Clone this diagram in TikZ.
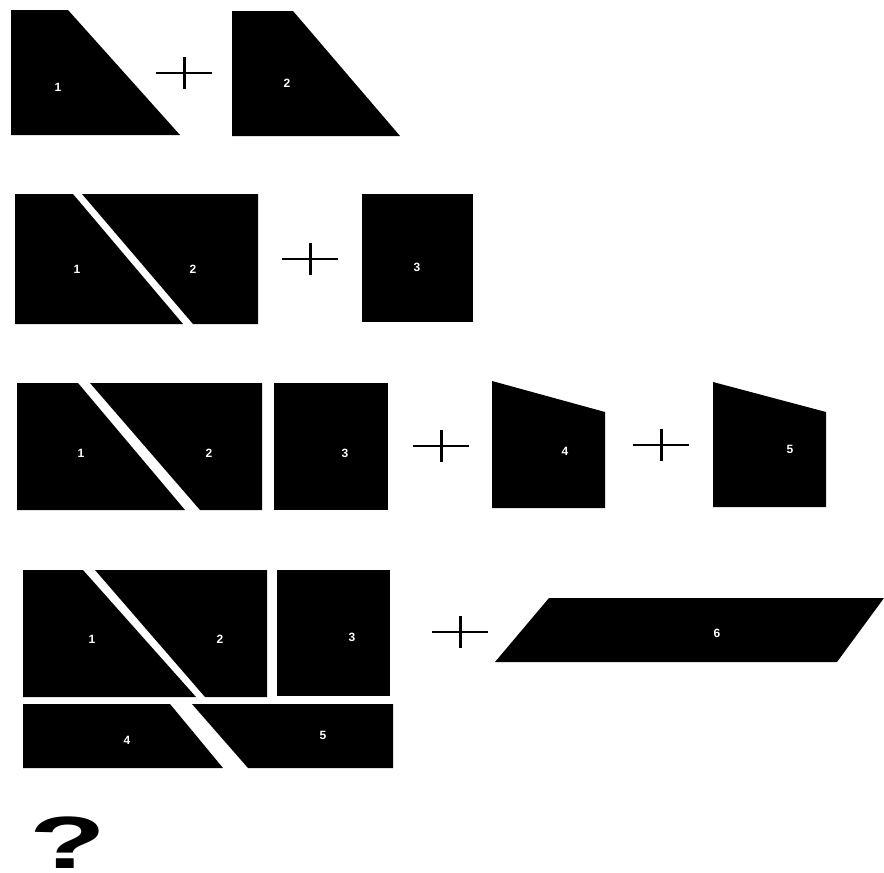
\documentclass[tikz,border=0pt]{standalone}
\usepackage{fontspec}
\setmainfont{Liberation Sans}
\usetikzlibrary{positioning}
\tikzset{
  piece/.style={fill=black},
  num/.style={text=white, font=\bfseries\fontsize{12}{13}\selectfont, inner sep=0pt},
  hbar/.style={draw=black, line width=2.2pt},
  vbar/.style={draw=black, line width=3pt},
}
% cross between two groups of pieces
\newcommand{\plussign}[3]{%
  \coordinate (#1) at (#2,#3);
  \draw[hbar] ([xshift=-28pt]#1) -- ([xshift=28pt]#1);
  \draw[vbar] ([yshift=16pt]#1) -- ([yshift=-16pt]#1);
}

\begin{document}
\begin{tikzpicture}[x=1pt, y=-1pt]
  \useasboundingbox (0,0) rectangle (884,873);

  % row 1
  \fill[piece] (11,10) -- (68,10) -- (180,135) -- (11,135) -- cycle;
  \node[num] (a1) at (58,87) {1};
  \plussign{p1}{184}{73}
  \fill[piece] (232,11) -- (293,11) -- (400,136) -- (232,136) -- cycle;
  \node[num] (a2) at (287,83) {2};

  % row 2
  \fill[piece] (15,194) -- (73,194) -- (183,324) -- (15,324) -- cycle;
  \fill[piece] (82,194) -- (258,194) -- (258,324) -- (193,324) -- cycle;
  \node[num] (b1) at (77,269) {1};
  \node[num] (b2) at (193,269) {2};
  \plussign{p2}{310}{259}
  \fill[piece] (362,194) rectangle (473,322);
  \node[num] (b3) at (417,267) {3};

  % row 3
  \fill[piece] (17,383) -- (78,383) -- (185,510) -- (17,510) -- cycle;
  \fill[piece] (90,383) -- (262,383) -- (262,510) -- (200,510) -- cycle;
  \fill[piece] (274,383) rectangle (388,510);
  \node[num] (c1) at (81,453) {1};
  \node[num] (c2) at (209,453) {2};
  \node[num] (c3) at (345,453) {3};
  \plussign{p3}{441}{446}
  \fill[piece] (492,381) -- (605,412) -- (605,508) -- (492,508) -- cycle;
  \node[num] (c4) at (565,451) {4};
  \plussign{p4}{661}{445}
  \fill[piece] (713,382) -- (826,412) -- (826,507) -- (713,507) -- cycle;
  \node[num] (c5) at (790,449) {5};

  % row 4
  \fill[piece] (23,570) -- (83,570) -- (196,697) -- (23,697) -- cycle;
  \fill[piece] (95,570) -- (267,570) -- (267,697) -- (205,697) -- cycle;
  \fill[piece] (277,570) rectangle (390,696);
  \fill[piece] (23,704) -- (170,704) -- (223,768) -- (23,768) -- cycle;
  \fill[piece] (192,704) -- (393,704) -- (393,768) -- (248,768) -- cycle;
  \node[num] (d1) at (92,639) {1};
  \node[num] (d2) at (220,639) {2};
  \node[num] (d3) at (352,637) {3};
  \node[num] (d4) at (127,740) {4};
  \node[num] (d5) at (323,735) {5};
  \plussign{p5}{460}{632}
  \fill[piece] (549,598) -- (884,598) -- (837,662) -- (495,662) -- cycle;
  \node[num] (d6) at (717,633) {6};

  % question
  \node[anchor=base west, inner sep=0pt, xscale=1.7,
        font=\bfseries\fontsize{74}{74}\selectfont] (q) at (29,868) {?};
\end{tikzpicture}
\end{document}
